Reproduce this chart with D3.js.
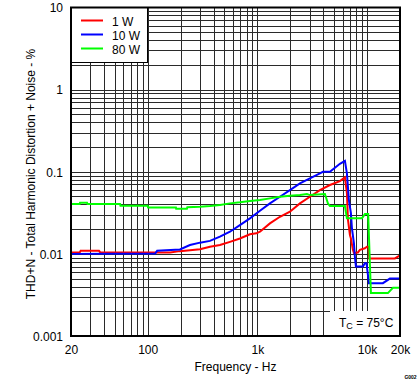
<!DOCTYPE html>
<html>
<head>
<meta charset="utf-8">
<script src="https://cdn.jsdelivr.net/npm/d3@7"></script>
<style>
html,body{margin:0;padding:0;background:#fff;}
svg{display:block;font-family:"Liberation Sans",Arial,sans-serif;}
</style>
</head>
<body>
<svg id="chart" width="419" height="382"></svg>
<script>
// ---- data (frequency Hz, THD+N %) ----
const series1W = [[20,0.0104],[24,0.0104],[24.5,0.0109],[36,0.0109],[37,0.0104],[160,0.0104],[197,0.0108],[300,0.0114],[370,0.0122],[456,0.0128],[563,0.0140],[694,0.0154],[856,0.0173],[980,0.0178],[1057,0.0186],[1303,0.0235],[1608,0.0283],[1983,0.0326],[2447,0.0412],[3018,0.0496],[3722,0.0598],[4592,0.0689],[5664,0.077],[6292,0.0855],[6561,0.055],[6700,0.0265],[6989,0.0169],[7136,0.0154],[7442,0.0112],[7600,0.0103],[8266,0.0104],[8620,0.0112],[9572,0.0117],[9986,0.0122],[10300,0.0122],[10500,0.0088],[17970,0.0088],[20000,0.0096]];
const series10W = [[20,0.0100],[117,0.0101],[122,0.0109],[197,0.0113],[243,0.0128],[300,0.0137],[370,0.0144],[456,0.0162],[563,0.0186],[694,0.0224],[856,0.0271],[1057,0.0335],[1303,0.0412],[1608,0.0496],[1983,0.0598],[2447,0.0722],[3018,0.0831],[3722,0.0956],[3964,0.1],[4592,0.1],[5664,0.125],[6292,0.136],[6561,0.0956],[6840,0.0452],[7136,0.0314],[7289,0.0206],[7600,0.0135],[7760,0.0092],[7925,0.0070],[9180,0.0070],[9572,0.0077],[9900,0.0077],[10414,0.0044],[13964,0.0044],[16180,0.0050],[20000,0.0050]];
const series80W = [[20,0.0404],[24,0.0404],[24.2,0.042],[28,0.042],[28.3,0.0404],[56,0.0404],[56.5,0.0386],[100,0.0386],[101,0.0366],[181,0.0366],[182,0.0354],[228,0.0354],[230,0.0370],[300,0.0375],[370,0.0382],[456,0.0393],[563,0.0412],[694,0.0424],[856,0.044],[1057,0.0452],[1303,0.0474],[1608,0.0496],[1983,0.051],[2447,0.052],[2834,0.0535],[3018,0.052],[4134,0.0535],[4402,0.0412],[4592,0.0382],[6292,0.0382],[6561,0.0271],[8990,0.0271],[9572,0.0305],[10250,0.0305],[10860,0.00333],[15512,0.00333],[17232,0.00387],[20000,0.00387]];
const seriesNames = ["1 W","10 W","80 W"];
const seriesColors = ["#ff0000","#0000ff","#00ff00"];
const xTickValues = [20,100,1000,10000,20000];
const xTickLabels = ["20","100","1k","10k","20k"];
const yTickValues = [0.001,0.01,0.1,1,10];
const yTickLabels = ["0.001","0.01","0.1","1","10"];
const xTitle = "Frequency - Hz";
const yTitle = "THD+N - Total Harmonic Distortion + Noise - %";

// ---- layout ----
const svg = d3.select("#chart");
const L=71, R=400, T=7.5, B=336;
const x = d3.scaleLog().domain([20,20000]).range([L,R]);
const y = d3.scaleLog().domain([0.001,10]).range([B,T]);

// grid
const xGrid=[], yGrid=[];
for (let d=10; d<=10000; d*=10) for (let m=1;m<=9;m++){const v=d*m; if(v>20 && v<20000) xGrid.push(v);}
for (let d=0.001; d<10; d*=10) for (let m=1;m<=9;m++){const v=+(d*m).toPrecision(3); if(v>0.001 && v<10) yGrid.push(v);}
const g = svg.append("g").attr("shape-rendering","crispEdges");
g.selectAll("line.vx").data(xGrid).join("line")
  .attr("x1",d=>Math.round(x(d))+0.5).attr("x2",d=>Math.round(x(d))+0.5)
  .attr("y1",T).attr("y2",B).attr("stroke","#2a2a2a").attr("stroke-width",1);
g.selectAll("line.hy").data(yGrid).join("line")
  .attr("y1",d=>Math.round(y(d))+0.5).attr("y2",d=>Math.round(y(d))+0.5)
  .attr("x1",L).attr("x2",R).attr("stroke","#2a2a2a").attr("stroke-width",1);

// annotation blank box
svg.append("rect").attr("x",330).attr("y",311).attr("width",R-330).attr("height",B-311).attr("fill","#fff");

// curves
const line = d3.line().x(d=>x(d[0])).y(d=>y(d[1]));
[series1W,series10W,series80W].forEach((s,i)=>{
  svg.append("path").datum(s).attr("d",line).attr("fill","none")
    .attr("stroke",seriesColors[i]).attr("stroke-width",2).attr("stroke-linejoin","miter");
});

// legend
svg.append("rect").attr("x",L).attr("y",T).attr("width",147-L).attr("height",62.5-T)
  .attr("fill","#fff").attr("stroke","#000").attr("stroke-width",1).attr("shape-rendering","crispEdges");
seriesNames.forEach((n,i)=>{
  const ly = 20.5 + i*14;
  svg.append("line").attr("x1",81).attr("x2",103).attr("y1",ly).attr("y2",ly)
    .attr("stroke",seriesColors[i]).attr("stroke-width",2);
  svg.append("text").attr("x",112).attr("y",ly+5.5).attr("font-size",12).attr("fill","#000").text(n);
});

// border
svg.append("rect").attr("x",L).attr("y",T).attr("width",R-L).attr("height",B-T)
  .attr("fill","none").attr("stroke","#000").attr("stroke-width",2);

// axes labels
const xAxis = d3.axisBottom(x).tickValues(xTickValues).tickSize(0).tickPadding(0)
  .tickFormat((d,i)=>xTickLabels[i]);
const gx = svg.append("g").attr("transform",`translate(0,${B})`).call(xAxis);
gx.select(".domain").remove();
gx.selectAll("text").attr("font-size",12).attr("font-family","Liberation Sans, Arial, sans-serif")
  .attr("fill","#000").attr("dy",null).attr("y",17.5);

const yAxis = d3.axisLeft(y).tickValues(yTickValues).tickSize(0).tickPadding(0)
  .tickFormat((d,i)=>yTickLabels[i]);
const gy = svg.append("g").attr("transform",`translate(${L},0)`).call(yAxis);
gy.select(".domain").remove();
gy.selectAll("text").attr("font-size",12).attr("font-family","Liberation Sans, Arial, sans-serif")
  .attr("fill","#000").attr("x",-8).attr("dy","0.36em");

svg.append("text").attr("x",(L+R)/2).attr("y",371).attr("text-anchor","middle")
  .attr("font-size",12).attr("fill","#000").text(xTitle);
svg.append("text").attr("transform","translate(34.5,174) rotate(-90)").attr("text-anchor","middle")
  .attr("font-size",12).attr("fill","#000").text(yTitle);

// annotation
const ann = svg.append("text").attr("x",339).attr("y",326.5).attr("font-size",12).attr("fill","#000");
ann.append("tspan").text("T");
ann.append("tspan").attr("font-size",9).attr("dy",2.5).text("C");
ann.append("tspan").attr("dy",-2.5).text(" = 75°C");

svg.append("text").attr("x",410.5).attr("y",379).attr("text-anchor","middle")
  .attr("font-size",5).attr("font-weight","bold").attr("fill","#000").text("G002");
</script>
</body>
</html>
